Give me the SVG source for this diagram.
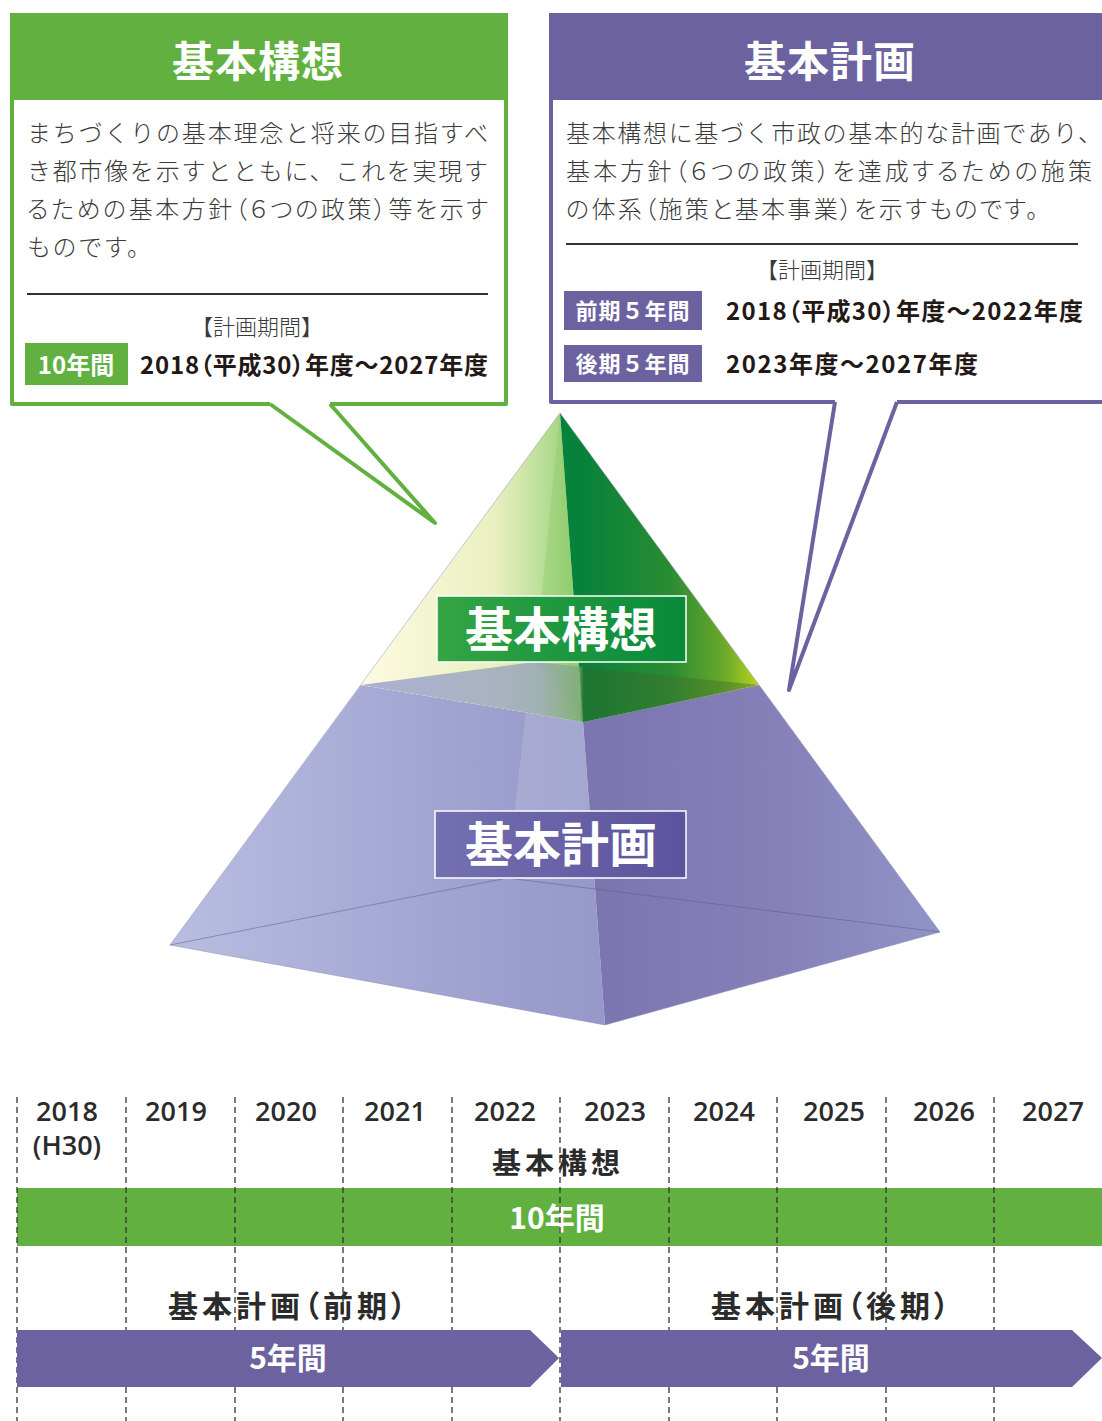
<svg xmlns="http://www.w3.org/2000/svg" width="1102" height="1421" viewBox="0 0 1102 1421">
<defs>
<style>
text{font-family:'Noto Sans CJK JP','Noto Sans',sans-serif}
.body{font-size:24px;fill:#3a3a3a;font-weight:300}
.pk{font-feature-settings:"palt"}
.title{font-size:42px;font-weight:700;fill:#fff;text-anchor:middle;letter-spacing:1px}
.period{font-size:24px;font-weight:700;fill:#231815;font-feature-settings:"palt"}
.sub{font-size:22px;fill:#3a3a3a;text-anchor:middle;font-weight:300}
.lbl{font-size:24px;font-weight:700;fill:#fff;text-anchor:middle}
.yr{font-family:'Open Sans','Noto Sans',sans-serif;font-size:27px;font-weight:600;fill:#2b2b2b;text-anchor:middle}
.tl{font-size:30px;font-weight:700;fill:#2b2b2b;text-anchor:middle;letter-spacing:4px;font-feature-settings:"palt"}
.bar{font-size:30px;font-weight:700;fill:#fff;text-anchor:middle}
.dash{stroke:#333;stroke-width:1.3;stroke-dasharray:6 4;fill:none}
.gline{stroke:#62b140;stroke-width:4;fill:none;stroke-linejoin:round}
.pline{stroke:#6c62a0;stroke-width:4;fill:none;stroke-linejoin:round}
.rule{stroke:#333;stroke-width:2}
.plab{font-size:48px;font-weight:700;fill:#fff;text-anchor:middle}
</style>
<linearGradient id="gL" gradientUnits="userSpaceOnUse" x1="170" y1="0" x2="605" y2="0">
<stop offset="0" stop-color="#b9bde0"/><stop offset="0.6" stop-color="#a2a5d1"/><stop offset="1" stop-color="#9598c8"/>
</linearGradient>
<linearGradient id="gR" gradientUnits="userSpaceOnUse" x1="605" y1="0" x2="940" y2="0">
<stop offset="0" stop-color="#7c76b0"/><stop offset="0.5" stop-color="#8580b8"/><stop offset="1" stop-color="#9194c6"/>
</linearGradient>
<linearGradient id="gGL" gradientUnits="userSpaceOnUse" x1="361" y1="0" x2="583" y2="0">
<stop offset="0" stop-color="#fdfbe2"/><stop offset="0.6" stop-color="#eaf0c0"/><stop offset="0.8" stop-color="#bfe09c"/><stop offset="1" stop-color="#8ccc6c"/>
</linearGradient>
<linearGradient id="gGR" gradientUnits="userSpaceOnUse" x1="583" y1="0" x2="759" y2="0">
<stop offset="0" stop-color="#07823a"/><stop offset="0.5" stop-color="#2a8c32"/><stop offset="0.8" stop-color="#6aa82a"/><stop offset="1" stop-color="#b8d41a"/>
</linearGradient>
<linearGradient id="gX" gradientUnits="userSpaceOnUse" x1="361" y1="0" x2="759" y2="0">
<stop offset="0" stop-color="#a9abd3" stop-opacity="0.95"/><stop offset="0.45" stop-color="#98a6b8" stop-opacity="0.8"/><stop offset="0.55" stop-color="#7ea47e" stop-opacity="0.7"/><stop offset="0.56" stop-color="#2c6a2c" stop-opacity="0.55"/><stop offset="1" stop-color="#4c7a2a" stop-opacity="0.5"/>
</linearGradient>
<linearGradient id="gLabG" x1="0" y1="0" x2="1" y2="0">
<stop offset="0" stop-color="#35a545"/><stop offset="1" stop-color="#078a3a"/>
</linearGradient>
<linearGradient id="gLabP" x1="0" y1="0" x2="1" y2="0">
<stop offset="0" stop-color="#7470b0"/><stop offset="1" stop-color="#5c539c"/>
</linearGradient>
</defs>
<rect width="1102" height="1421" fill="#fff"/>

<g id="node-kihonkoso-box">
<rect x="12" y="15" width="494" height="389" fill="#fff"/>
<path class="gline" d="M270 404 H12 V15 H506 V404 H330"/>
<rect x="10" y="13" width="498" height="87" fill="#62b140"/>
<text class="title" x="258" y="77">基本構想</text>
<text class="body" x="27" y="142" textLength="461">まちづくりの基本理念と将来の目指すべ</text>
<text class="body" x="27" y="180" textLength="461">き都市像を示すとともに、これを実現す</text>
<text class="body pk" x="27" y="218" textLength="461">るための基本方針（６つの政策）等を示す</text>
<text class="body" x="27" y="256" textLength="124">ものです。</text>
<line class="rule" x1="27" y1="294" x2="488" y2="294"/>
<text class="sub" x="257" y="335">【計画期間】</text>
<rect x="25" y="343" width="103" height="42" fill="#62b140"/>
<text class="lbl" x="76" y="374">10年間</text>
<text class="period" x="140" y="374" textLength="348">2018（平成30）年度～2027年度</text>
</g>

<g id="node-kihonkeikaku-box">
<rect x="551" y="15" width="560" height="387" fill="#fff"/>
<path class="pline" d="M835 402 H551 V15 H1110 M1110 402 H897"/>
<rect x="549" y="13" width="560" height="87" fill="#6c62a0"/>
<text class="title" x="830" y="77">基本計画</text>
<text class="body" x="566" y="142" textLength="536">基本構想に基づく市政の基本的な計画であり、</text>
<text class="body pk" x="566" y="180" textLength="526">基本方針（６つの政策）を達成するための施策</text>
<text class="body pk" x="566" y="218" textLength="472">の体系（施策と基本事業）を示すものです。</text>
<line class="rule" x1="566" y1="244" x2="1078" y2="244"/>
<text class="sub" x="822" y="278">【計画期間】</text>
<rect x="564" y="291" width="138" height="39" fill="#6c62a0"/>
<text class="lbl" x="633" y="319" style="font-size:22px;letter-spacing:1px">前期５年間</text>
<text class="period" x="726" y="320" textLength="357">2018（平成30）年度～2022年度</text>
<rect x="564" y="345" width="138" height="37" fill="#6c62a0"/>
<text class="lbl" x="633" y="372" style="font-size:22px;letter-spacing:1px">後期５年間</text>
<text class="period" x="726" y="373" textLength="252">2023年度～2027年度</text>
</g>

<g id="node-pyramid">
<polygon points="361,685 170,945 605,1025 583,722" fill="url(#gL)"/>
<polygon points="583,722 605,1025 940,932 759,685" fill="url(#gR)"/>
<polygon points="560,413 507,878 596,878 583,722" fill="#fff" opacity="0.13"/>
<polyline points="170,945 507,878 940,932" fill="none" stroke="#5d5a8a" stroke-width="1" opacity="0.5"/>
<polygon points="560,413 361,685 583,722" fill="url(#gGL)"/>
<polygon points="560,413 583,722 759,685" fill="url(#gGR)"/>
<polygon points="560,413 535,662 583,722" fill="#86c864" opacity="0.35"/>
<polygon points="361,685 535,662 759,685 583,722" fill="url(#gX)"/>
<polygon points="560,413 170,945 605,1025 940,932" fill="none" stroke="#8a8ab0" stroke-width="0.8" opacity="0.6"/>
</g>

<g id="node-pyramid-label-koso">
<rect x="437" y="596" width="249" height="66" fill="url(#gLabG)" stroke="#fff" stroke-width="1.5"/>
<text class="plab" x="561" y="647">基本構想</text>
</g>
<g id="node-pyramid-label-keikaku">
<rect x="435" y="811" width="251" height="67" fill="url(#gLabP)" stroke="#fff" stroke-width="1.5"/>
<text class="plab" x="561" y="862">基本計画</text>
</g>

<g id="connectors">
<polyline class="gline" points="270,404 435,523 330,404"/>
<polyline class="pline" points="835,402 789,690 897,402"/>
</g>

<g id="node-timeline">
<text class="yr" x="67" y="1121">2018</text>
<text class="yr" x="67" y="1155">(H30)</text>
<text class="yr" x="176" y="1121">2019</text>
<text class="yr" x="286" y="1121">2020</text>
<text class="yr" x="395" y="1121">2021</text>
<text class="yr" x="505" y="1121">2022</text>
<text class="yr" x="615" y="1121">2023</text>
<text class="yr" x="724" y="1121">2024</text>
<text class="yr" x="834" y="1121">2025</text>
<text class="yr" x="944" y="1121">2026</text>
<text class="yr" x="1053" y="1121">2027</text>
<text class="tl" x="558" y="1174" style="font-size:29px">基本構想</text>
<text class="tl" x="289" y="1317">基本計画（前期）</text>
<text class="tl" x="832" y="1317">基本計画（後期）</text>
<rect x="17" y="1188" width="1090" height="58" fill="#62b140"/>
<text class="bar" x="557" y="1229">10年間</text>
<g>
<line class="dash" x1="17" y1="1097" x2="17" y2="1421"/>
<line class="dash" x1="126" y1="1097" x2="126" y2="1421"/>
<line class="dash" x1="235" y1="1097" x2="235" y2="1421"/>
<line class="dash" x1="343" y1="1097" x2="343" y2="1421"/>
<line class="dash" x1="452" y1="1097" x2="452" y2="1421"/>
<line class="dash" x1="560" y1="1097" x2="560" y2="1421"/>
<line class="dash" x1="669" y1="1097" x2="669" y2="1421"/>
<line class="dash" x1="777" y1="1097" x2="777" y2="1421"/>
<line class="dash" x1="886" y1="1097" x2="886" y2="1421"/>
<line class="dash" x1="994" y1="1097" x2="994" y2="1421"/>
</g>
<polygon points="17,1330 530,1330 559,1358 530,1387 17,1387" fill="#6c62a0"/>
<polygon points="561,1330 1072,1330 1102,1358 1072,1387 561,1387" fill="#6c62a0"/>
<text class="bar" x="288" y="1369">5年間</text>
<text class="bar" x="831" y="1369">5年間</text>
</g>
</svg>
